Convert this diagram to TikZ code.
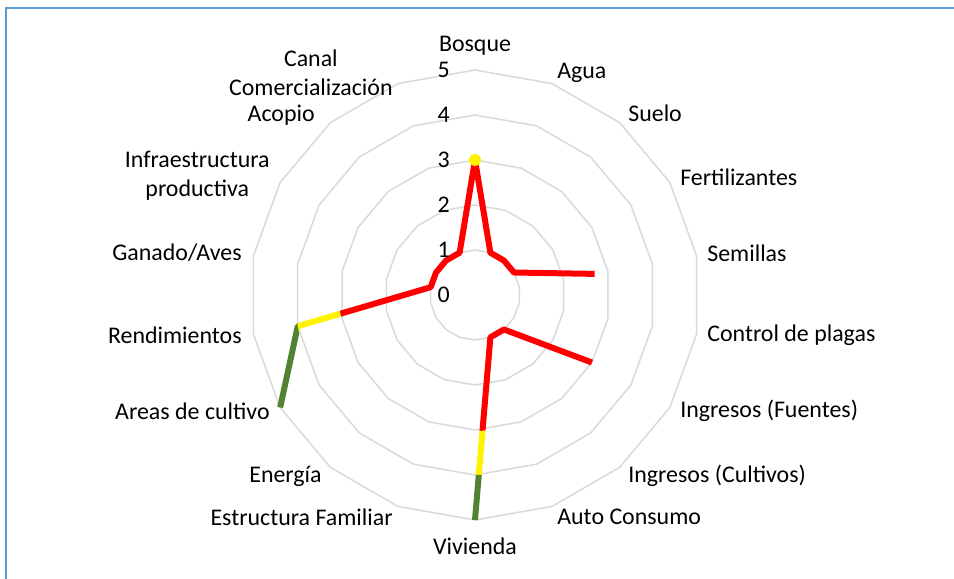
\documentclass[tikz,border=0pt]{standalone}
\usepackage{fontspec}
\setmainfont{Carlito}
\definecolor{chartgreen}{RGB}{84,130,53}
\definecolor{gridgray}{RGB}{217,217,217}
\definecolor{frameblue}{RGB}{91,155,213}

\begin{document}
\begin{tikzpicture}[
    ring/.style={gridgray, line width=0.03cm},
    serie/.style={line width=0.12cm, line join=round},
    lab/.style={inner sep=0pt, font=\fontsize{13.6}{16.5}\selectfont},
  ]
  \useasboundingbox (-9.5,-5.68) rectangle (9.58,5.9);
  \draw[frameblue, line width=0.045cm] (-9.38,-5.68) -- (-9.38,5.74) -- (9.58,5.74);
  % rings 1..5
  \foreach \k in {1,...,5}
    \draw[ring] (90:{0.9*\k}) \foreach \a in {70,50,...,-250} {-- (\a:{0.9*\k})} -- cycle;
  % data points (5, 10 and 11 have no value)
  \foreach \i/\v in {0/3,1/1,2/1,3/1,4/2.7,6/3,7/1,8/1,9/5,12/5,13/4,14/1,15/1,16/1,17/1}
    \coordinate (d\i) at ({90-20*\i}:{0.9*\v});
  % red below 3, yellow 3..4, green above 4
  \foreach \c/\rin/\rout in {red/0.01/2.72, yellow/2.72/3.6, chartgreen/3.6/4.7}{
    \begin{scope}[even odd rule]
      \clip (0,0) circle (\rout) (0,0) circle (\rin);
      \draw[serie,\c] (d6) -- (d7) -- (d8) -- (d9);
      \draw[serie,\c] (d12) -- (d13) -- (d14) -- (d15) -- (d16) -- (d17) -- (d0) -- (d1) -- (d2) -- (d3) -- (d4);
    \end{scope}
  }
  \fill[yellow] (d0) circle (0.12);
  % scale
  \foreach \k in {0,...,5}
    \node[lab,anchor=east] (v\k) at (-0.5,{0.9*\k}) {\k};
  % categories
  \node[lab] (bosque) at (0,4.98) {Bosque};
  \node[lab,anchor=west] (agua) at (1.64,4.44) {Agua};
  \node[lab,anchor=west] (suelo) at (3.06,3.64) {Suelo};
  \node[lab,anchor=west] (fert) at (4.10,2.36) {Fertilizantes};
  \node[lab,anchor=west] (semillas) at (4.64,0.84) {Semillas};
  \node[lab,anchor=west] (plagas) at (4.64,-0.80) {Control de plagas};
  \node[lab,anchor=west] (fuentes) at (4.10,-2.32) {Ingresos (Fuentes)};
  \node[lab,anchor=west] (cultivos) at (3.06,-3.62) {Ingresos (Cultivos)};
  \node[lab,anchor=west] (consumo) at (1.64,-4.44) {Auto Consumo};
  \node[lab] (vivienda) at (0,-5.02) {Vivienda};
  \node[lab,anchor=east] (familia) at (-1.64,-4.44) {Estructura Familiar};
  \node[lab,anchor=east] (energia) at (-3.06,-3.62) {Energía};
  \node[lab,anchor=east] (areas) at (-4.10,-2.32) {Areas de cultivo};
  \node[lab,anchor=east] (rend) at (-4.66,-0.80) {Rendimientos};
  \node[lab,anchor=east] (ganado) at (-4.66,0.84) {Ganado/Aves};
  \node[lab,anchor=east,align=center] (infra) at (-4.10,2.38) {Infraestructura\\productiva};
  \node[lab,anchor=east] (acopio) at (-3.20,3.60) {Acopio};
  \node[lab,anchor=east,align=center] (canal) at (-1.64,4.44) {Canal\\Comercialización};
\end{tikzpicture}
\end{document}
